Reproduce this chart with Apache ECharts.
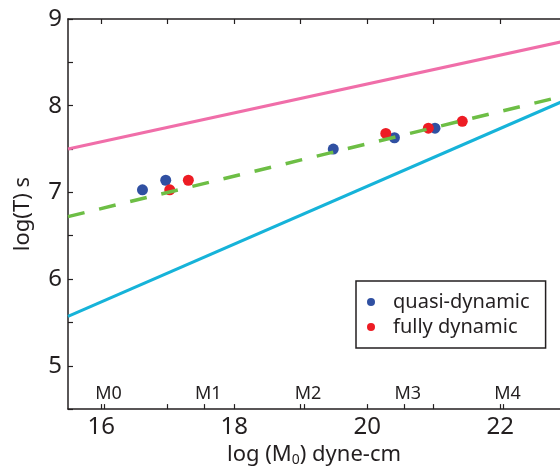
<!DOCTYPE html>
<html>
<head>
<meta charset="utf-8">
<script src="https://cdn.jsdelivr.net/npm/echarts@6/dist/echarts.min.js"></script>
<style>
  html, body { margin: 0; padding: 0; background: #fff; }
  #chart { width: 560px; height: 472px; }
</style>
</head>
<body>
<div id="chart"></div>
<script>
// scaling lines (end points)
const pinkLine = [[15.5, 7.50], [23, 8.75]]
const cyanLine = [[15.5, 5.57], [23, 8.07]]
const greenLine = [[15.5, 6.72], [23, 8.12]]

// simulation points
const quasiDynamic = [[16.62, 7.03], [16.97, 7.14], [19.49, 7.50], [20.41, 7.63], [21.02, 7.74]]
const fullyDynamic = [[17.03, 7.03], [17.31, 7.14], [20.28, 7.68], [20.92, 7.74], [21.43, 7.82]]

// tick labels
const xTicks = [16, 17, 18, 19, 20, 21, 22]
const xLabels = [16, 18, 20, 22]
const magTicks = [16.05, 17.55, 19.05, 20.55, 22.05]
const magNames = ['M0', 'M1', 'M2', 'M3', 'M4']

const ink = '#231f20'
const font = 'Noto Sans'

const chart = echarts.init(document.getElementById('chart'))

const option = {
  animation: false,
  backgroundColor: '#fff',
  textStyle: { fontFamily: font },
  grid: { left: 68, top: 19, right: 0, bottom: 60 },
  legend: {
    orient: 'vertical',
    left: 356,
    top: 281,
    data: ['quasi-dynamic', 'fully dynamic'],
    icon: 'circle',
    itemWidth: 8,
    itemHeight: 8,
    itemGap: 5,
    padding: [11, 16, 11, 11],
    borderColor: ink,
    borderWidth: 1.5,
    textStyle: { fontSize: 20, lineHeight: 20, color: ink, fontFamily: font, padding: [0, 0, 0, 13] }
  },
  xAxis: [
    {
      type: 'value',
      position: 'bottom',
      min: 15.5,
      max: 22.9,
      splitLine: { show: false },
      axisLine: { onZero: false, lineStyle: { color: ink, width: 1.5 } },
      axisTick: { inside: true, length: 5, customValues: xTicks, lineStyle: { color: ink, width: 1.2 } },
      axisLabel: { customValues: xLabels, fontSize: 24, color: ink, margin: 6 },
      name: '{n|log (M}{s|0}{n|) dyne-cm}',
      nameLocation: 'middle',
      nameGap: 28,
      nameTextStyle: {
        rich: {
          n: { fontSize: 22, color: ink, fontFamily: font },
          s: { fontSize: 14, color: ink, fontFamily: font, verticalAlign: 'bottom', padding: [10, 0, 0, 0] }
        }
      }
    },
    {
      // magnitude markers
      type: 'value',
      position: 'bottom',
      min: 15.5,
      max: 22.9,
      splitLine: { show: false },
      axisLine: { show: false, onZero: false },
      axisTick: { show: true, inside: true, length: 5, customValues: magTicks, lineStyle: { color: ink, width: 1.2 } },
      axisLabel: {
        inside: true,
        customValues: magTicks,
        fontSize: 18,
        color: ink,
        margin: 6,
        padding: [0, 0, 0, 8],
        formatter: function (v) {
          const i = magTicks.findIndex(m => Math.abs(m - v) < 1e-6)
          return i >= 0 ? magNames[i] : ''
        }
      }
    },
    {
      type: 'value',
      position: 'top',
      min: 15.5,
      max: 22.9,
      splitLine: { show: false },
      axisLine: { onZero: false, lineStyle: { color: ink, width: 1.5 } },
      axisTick: { inside: true, length: 5, customValues: xTicks, lineStyle: { color: ink, width: 1.2 } },
      axisLabel: { show: false }
    }
  ],
  yAxis: {
    type: 'value',
    min: 4.5,
    max: 9,
    interval: 0.5,
    splitLine: { show: false },
    axisLine: { onZero: false, lineStyle: { color: ink, width: 1.5 } },
    axisTick: { inside: true, length: 5, lineStyle: { color: ink, width: 1.2 } },
    axisLabel: {
      fontSize: 24,
      color: ink,
      margin: 6,
      formatter: function (v) { return Number.isInteger(v) ? String(v) : '' }
    },
    name: 'log(T) s',
    nameLocation: 'middle',
    nameGap: 34,
    nameTextStyle: { fontSize: 22, color: ink }
  },
  series: [
    {
      name: 'pink',
      type: 'line',
      data: pinkLine,
      symbol: 'none',
      lineStyle: { color: '#f06ea9', width: 3 }
    },
    {
      name: 'cyan',
      type: 'line',
      data: cyanLine,
      symbol: 'none',
      lineStyle: { color: '#16b3d9', width: 3 }
    },
    {
      name: 'green',
      type: 'line',
      data: greenLine,
      symbol: 'none',
      lineStyle: { color: '#6dbe45', width: 3.5, type: [17, 15] }
    },
    {
      name: 'quasi-dynamic',
      type: 'scatter',
      data: quasiDynamic,
      symbolSize: 11,
      itemStyle: { color: '#3050a2', opacity: 1 }
    },
    {
      name: 'fully dynamic',
      type: 'scatter',
      data: fullyDynamic,
      symbolSize: 11,
      itemStyle: { color: '#ed1c24', opacity: 1 }
    }
  ]
}

chart.setOption(option)
</script>
</body>
</html>
